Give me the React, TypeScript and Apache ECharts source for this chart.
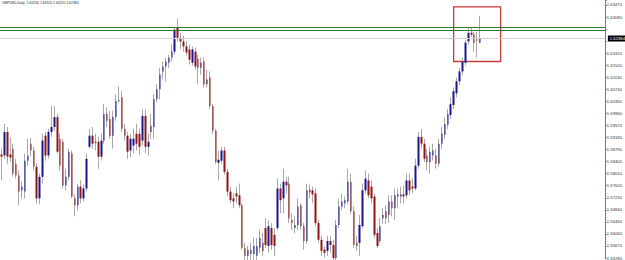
import React, { useEffect, useRef } from "react";
import * as echarts from "echarts";

const symbolName = "GBPUSD,Daily";

const open = [
  1.5863, 1.586, 1.5936, 1.5863, 1.5882, 1.5833, 1.5795, 1.5747, 1.5743, 1.5843,
  1.5898, 1.5876, 1.5823, 1.5721, 1.5791, 1.5924, 1.586, 1.5936, 1.5952, 1.5984,
  1.5914, 1.5904, 1.5763, 1.5791, 1.5866, 1.5721, 1.5699, 1.5759, 1.5721, 1.5753,
  1.5888, 1.5924, 1.5904, 1.5904, 1.5856, 1.5908, 1.5994, 1.5978, 1.5924, 1.5984,
  1.6036, 1.6048, 1.5946, 1.5924, 1.5876, 1.5892, 1.593, 1.593, 1.5908, 1.5988,
  1.5888, 1.5936, 1.5952, 1.6042, 1.6074, 1.6132, 1.6148, 1.616, 1.6177, 1.6196,
  1.6273, 1.6241, 1.6229, 1.6213, 1.6203, 1.616, 1.6196, 1.6173, 1.6144, 1.6164,
  1.609, 1.6112, 1.602, 1.594, 1.5836, 1.5843, 1.5876, 1.5807, 1.5743, 1.5721,
  1.5737, 1.5731, 1.5699, 1.5561, 1.5535, 1.5555, 1.5541, 1.5535, 1.5561, 1.5577,
  1.5625, 1.5567, 1.5625, 1.5603, 1.5625, 1.5753, 1.5721, 1.5775, 1.5769, 1.5651,
  1.5625, 1.5635, 1.5699, 1.5631, 1.5583, 1.575, 1.5747, 1.5737, 1.5641, 1.5587,
  1.5555, 1.5551, 1.5583, 1.557, 1.5528, 1.5635, 1.5695, 1.5705, 1.5711, 1.5775,
  1.5679, 1.5577, 1.5577, 1.5631, 1.5747, 1.5779, 1.5759, 1.5727, 1.5609, 1.5583,
  1.5657, 1.5679, 1.5667, 1.5711, 1.5689, 1.5727, 1.5727, 1.5734, 1.5731, 1.5779,
  1.5759, 1.5753, 1.5827, 1.592, 1.5898, 1.586, 1.5839, 1.586, 1.586, 1.5833,
  1.5898, 1.5927, 1.5959, 1.5991, 1.6023, 1.6061, 1.61, 1.6132, 1.616, 1.6229,
  1.6257, 1.6251, 1.6235, 1.6225,
];

const close = [
  1.5856, 1.5936, 1.5856, 1.5853, 1.5801, 1.5795, 1.5743, 1.5759, 1.5843, 1.586,
  1.5876, 1.5823, 1.5721, 1.5791, 1.5908, 1.586, 1.5936, 1.5952, 1.5984, 1.5872,
  1.5827, 1.5763, 1.5791, 1.5872, 1.5727, 1.5699, 1.5759, 1.5721, 1.5753, 1.5849,
  1.5924, 1.5898, 1.5901, 1.5856, 1.5908, 1.5994, 1.5972, 1.5924, 1.5984, 1.6036,
  1.6039, 1.5946, 1.5924, 1.5872, 1.5914, 1.5914, 1.5898, 1.5888, 1.5988, 1.5888,
  1.5904, 1.5956, 1.6042, 1.6074, 1.6122, 1.6148, 1.6164, 1.6177, 1.6196, 1.6267,
  1.6241, 1.6229, 1.6213, 1.6193, 1.617, 1.6203, 1.6148, 1.6144, 1.616, 1.609,
  1.6106, 1.602, 1.594, 1.5839, 1.5846, 1.5876, 1.5807, 1.5743, 1.5715, 1.5711,
  1.5727, 1.5699, 1.5561, 1.5535, 1.5555, 1.5541, 1.5567, 1.5567, 1.5593, 1.5551,
  1.557, 1.5631, 1.557, 1.5567, 1.5753, 1.5715, 1.5775, 1.5763, 1.5657, 1.5641,
  1.5635, 1.5695, 1.5631, 1.5583, 1.5747, 1.574, 1.5734, 1.5641, 1.5587, 1.5551,
  1.5545, 1.5583, 1.557, 1.5528, 1.5635, 1.5695, 1.5711, 1.5715, 1.5775, 1.5679,
  1.557, 1.5567, 1.5635, 1.5747, 1.5785, 1.5731, 1.5721, 1.5603, 1.5567, 1.5631,
  1.5667, 1.5657, 1.5711, 1.5689, 1.5731, 1.5734, 1.5734, 1.5727, 1.5779, 1.5747,
  1.5753, 1.5827, 1.592, 1.5898, 1.5849, 1.5839, 1.5872, 1.5876, 1.5833, 1.5898,
  1.593, 1.5962, 1.5994, 1.6026, 1.6068, 1.61, 1.6132, 1.6164, 1.6225, 1.6257,
  1.6251, 1.6225, 1.6232, 1.62384,
];

const high = [
  1.5882, 1.5962, 1.5952, 1.592, 1.5898, 1.5849, 1.5811, 1.5775, 1.5866, 1.5914,
  1.5917, 1.5888, 1.5833, 1.5801, 1.593, 1.5936, 1.5946, 1.602, 1.602, 1.5994,
  1.593, 1.5914, 1.5817, 1.5882, 1.5876, 1.5734, 1.5769, 1.5779, 1.5766, 1.5866,
  1.5946, 1.5952, 1.593, 1.592, 1.593, 1.6026, 1.6016, 1.6004, 1.6004, 1.6058,
  1.6084, 1.6068, 1.5962, 1.5936, 1.593, 1.5946, 1.5962, 1.5946, 1.601, 1.601,
  1.593, 1.5994, 1.6058, 1.609, 1.6144, 1.6164, 1.6177, 1.6186, 1.6219, 1.6273,
  1.6302, 1.6257, 1.6248, 1.6229, 1.6219, 1.6213, 1.6209, 1.6186, 1.6177, 1.6177,
  1.6138, 1.6132, 1.6026, 1.5946, 1.5876, 1.5888, 1.5888, 1.5817, 1.5759, 1.5737,
  1.5759, 1.5769, 1.5705, 1.5577, 1.5567, 1.5577, 1.5593, 1.5593, 1.5619, 1.5609,
  1.5657, 1.5651, 1.5641, 1.5625, 1.5785, 1.5769, 1.5817, 1.5791, 1.5791, 1.5673,
  1.5663, 1.5721, 1.5705, 1.5641, 1.5769, 1.5766, 1.5759, 1.5753, 1.5651, 1.56,
  1.5567, 1.56, 1.56, 1.5587, 1.5651, 1.5721, 1.5737, 1.5727, 1.5817, 1.5801,
  1.5695, 1.56, 1.5667, 1.5769, 1.5811, 1.5801, 1.5779, 1.5737, 1.5625, 1.5657,
  1.5689, 1.5699, 1.5731, 1.5731, 1.5753, 1.5753, 1.5759, 1.5763, 1.5801, 1.5801,
  1.5785, 1.5849, 1.5936, 1.5946, 1.5914, 1.5882, 1.5888, 1.5898, 1.5882, 1.5914,
  1.5952, 1.5984, 1.601, 1.6048, 1.608, 1.6112, 1.6144, 1.6177, 1.6235, 1.6276,
  1.6273, 1.626, 1.626, 1.6312,
];

const low = [
  1.5779, 1.5849, 1.5833, 1.5839, 1.5791, 1.5785, 1.5699, 1.5721, 1.5721, 1.5827,
  1.5856, 1.5811, 1.5705, 1.5702, 1.5769, 1.5843, 1.5849, 1.592, 1.594, 1.5866,
  1.5811, 1.5753, 1.5747, 1.5779, 1.5721, 1.5663, 1.5683, 1.5705, 1.5711, 1.5743,
  1.5882, 1.5882, 1.5876, 1.5817, 1.5843, 1.5898, 1.5952, 1.5914, 1.5882, 1.5972,
  1.6029, 1.5936, 1.5908, 1.5849, 1.5856, 1.5866, 1.5876, 1.586, 1.5892, 1.5866,
  1.586, 1.5914, 1.5914, 1.6032, 1.6042, 1.6106, 1.61, 1.6144, 1.6164, 1.6186,
  1.6229, 1.6203, 1.6196, 1.6183, 1.6154, 1.6151, 1.6138, 1.609, 1.6122, 1.608,
  1.608, 1.601, 1.593, 1.5833, 1.5779, 1.5833, 1.5798, 1.5727, 1.5705, 1.5689,
  1.5705, 1.5689, 1.5555, 1.5512, 1.5512, 1.5522, 1.5522, 1.5522, 1.5545, 1.5535,
  1.5561, 1.5545, 1.5555, 1.5535, 1.5619, 1.5673, 1.5673, 1.5737, 1.5641, 1.5619,
  1.5609, 1.5619, 1.5619, 1.5555, 1.5574, 1.5721, 1.5705, 1.5631, 1.5577, 1.5535,
  1.5528, 1.5535, 1.5545, 1.5518, 1.5518, 1.5625, 1.5683, 1.5689, 1.5702, 1.567,
  1.5561, 1.5551, 1.5535, 1.5625, 1.5737, 1.5721, 1.5705, 1.5593, 1.5561, 1.5577,
  1.5638, 1.5638, 1.5641, 1.5663, 1.5651, 1.5689, 1.5705, 1.5705, 1.5721, 1.5731,
  1.5737, 1.5747, 1.5817, 1.5882, 1.5839, 1.5811, 1.5801, 1.5843, 1.5817, 1.5823,
  1.5882, 1.5914, 1.5946, 1.5978, 1.601, 1.6048, 1.6087, 1.6119, 1.6151, 1.6219,
  1.6244, 1.6196, 1.6177, 1.6222,
];

// horizontal resistance lines (green)
const resistanceLevels = [1.62754, 1.62645];

// right price axis
const yTickStart = 1.5528;
const yTickStep = 0.0039;
const yMax = 1.636305;

// slots on the time axis (bars + right shift space)
const slotCount = 206;

// highlighted box around the latest bars
const boxFromBar = 154;
const boxToBar = 170;
const boxTop = 1.6341;
const boxBottom = 1.6164;

const FONT = "Liberation Sans";
const fmt = (v: number) => v.toFixed(5);

export default function App() {
  const ref = useRef<HTMLDivElement>(null);

  useEffect(() => {
    document.body.style.margin = "0";
    const chart = echarts.init(ref.current!, null, { renderer: "svg" });
    const last = close.length - 1;
    const bid = close[last];
    const greenLabelLevel = (resistanceLevels[0] + resistanceLevels[1]) / 2;
    const categories = Array.from({ length: slotCount }, (_, i) => String(i + 1));
    const ohlc = open.map((o, i) => [o, close[i], low[i], high[i]]);
    const bodies = open.map((o, i) => [
      o,
      close[i],
      Math.min(o, close[i]),
      Math.max(o, close[i]),
    ]);
    const wickColor = "#a8a8a8";
    const bull = "#16168e";
    const bear = "#8e1414";

    chart.setOption({
      animation: false,
      backgroundColor: "#ffffff",
      title: {
        text: `${symbolName}  ${fmt(open[last])} ${fmt(high[last])} ${fmt(low[last])} ${fmt(close[last])}`,
        left: 2,
        top: 1,
        padding: 0,
        textStyle: {
          fontSize: 3.4,
          fontWeight: "normal",
          color: "#222",
          fontFamily: FONT,
        },
      },
      grid: { left: 0, right: 16, top: 0, bottom: 0, containLabel: false },
      xAxis: {
        type: "category",
        data: categories,
        boundaryGap: true,
        show: false,
      },
      yAxis: {
        type: "value",
        position: "right",
        min: yTickStart,
        max: yMax,
        interval: yTickStep,
        axisLine: { show: true, lineStyle: { color: "#7a7a7a", width: 1 } },
        axisTick: { show: true, length: 2, lineStyle: { color: "#7a7a7a" } },
        axisLabel: {
          fontSize: 4.2,
          color: "#333",
          margin: 2,
          fontFamily: FONT,
          formatter: (v: number) => {
            const k = (v - yTickStart) / yTickStep;
            if (Math.abs(k - Math.round(k)) > 0.01) return "";
            // covered by the price boxes
            if (Math.abs(v - greenLabelLevel) < 0.0011) return "";
            if (Math.abs(v - bid) < 0.0011) return "";
            return fmt(v);
          },
        },
        splitLine: { show: false },
      },
      series: [
        {
          name: "levels",
          type: "line",
          data: [],
          silent: true,
          markLine: {
            silent: true,
            precision: 6,
            symbol: ["none", "none"],
            animation: false,
            data: [
              {
                yAxis: bid,
                lineStyle: { color: "#cfcfcf", width: 1, type: "solid" },
                label: {
                  show: true,
                  position: "end",
                  distance: 3,
                  formatter: () => fmt(bid),
                  backgroundColor: "#000",
                  color: "#fff",
                  fontSize: 4.2,
                  fontFamily: FONT,
                  padding: [1, 2],
                },
              },
              {
                yAxis: resistanceLevels[0],
                lineStyle: { color: "#2f7a2f", width: 1, type: "solid" },
                label: { show: false },
              },
              {
                yAxis: resistanceLevels[1],
                lineStyle: { color: "#2f7a2f", width: 1, type: "solid" },
                label: { show: false },
              },
              {
                yAxis: greenLabelLevel,
                lineStyle: { opacity: 0, width: 0 },
                label: {
                  show: true,
                  position: "end",
                  distance: 3,
                  formatter: () => fmt(resistanceLevels[0]),
                  backgroundColor: "#3fa33f",
                  color: "#0b2b0b",
                  fontSize: 4.2,
                  fontFamily: FONT,
                  padding: [1.5, 2],
                },
              },
            ],
          },
        },
        {
          name: "wicks",
          type: "candlestick",
          data: ohlc,
          barWidth: 1,
          clip: true,
          itemStyle: {
            color: wickColor,
            color0: wickColor,
            borderColor: wickColor,
            borderColor0: wickColor,
            borderColorDoji: wickColor,
            borderWidth: 1,
          },
        },
        {
          name: "bodies",
          type: "candlestick",
          data: bodies,
          barWidth: 2,
          clip: true,
          itemStyle: {
            color: bull,
            color0: bear,
            borderColor: bull,
            borderColor0: bear,
            borderColorDoji: wickColor,
            borderWidth: 0,
          },
          markArea: {
            silent: true,
            itemStyle: {
              color: "rgba(0,0,0,0)",
              borderColor: "#c83c3c",
              borderWidth: 1.3,
            },
            data: [
              [
                { xAxis: boxFromBar, yAxis: boxTop },
                { xAxis: boxToBar, yAxis: boxBottom },
              ],
            ],
          },
        },
      ],
    });

    return () => chart.dispose();
  }, []);

  return <div ref={ref} style={{ width: 625, height: 260 }} />;
}
